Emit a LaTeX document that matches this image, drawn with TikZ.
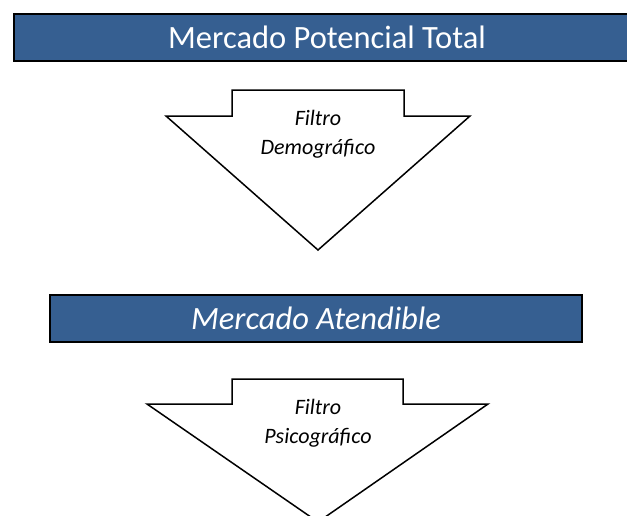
\documentclass[tikz,border=0pt]{standalone}
\usepackage{fontspec}
\setmainfont{Carlito}

\definecolor{titleblue}{HTML}{365F91}

\tikzset{
    titlebox/.style={draw=black, line width=2pt, fill=titleblue, text=white,
        minimum height=47pt, inner sep=0pt, font=\fontsize{32.5}{38}\selectfont},
    filterarrow/.style={draw=black, line width=1.5pt, fill=white, line join=miter},
    filterlabel/.style={align=center, inner sep=0pt,
        font=\itshape\fontsize{22}{29.5}\selectfont}
}

\begin{document}
\begin{tikzpicture}[x=1pt, y=-1pt]
    \useasboundingbox (0,0) rectangle (627,515);

    \node[titlebox, minimum width=626pt] (total) at (327,37) {Mercado Potencial Total};

    \draw[filterarrow] (232,90) -- (404,90) -- (404,116) -- (470,116) -- (318,250)
        -- (166,116) -- (232,116) -- cycle;
    \node[filterlabel] (demo) at (318,134) {Filtro\\Demográfico};

    \node[titlebox, minimum width=532pt, font=\itshape\fontsize{32.5}{38}\selectfont]
        (atendible) at (316,318) {Mercado Atendible};

    \draw[filterarrow] (232,379) -- (403,379) -- (403,404) -- (488,404) -- (318,522)
        -- (147,404) -- (232,404) -- cycle;
    \node[filterlabel] (psico) at (318,423) {Filtro\\Psicográfico};
\end{tikzpicture}
\end{document}
